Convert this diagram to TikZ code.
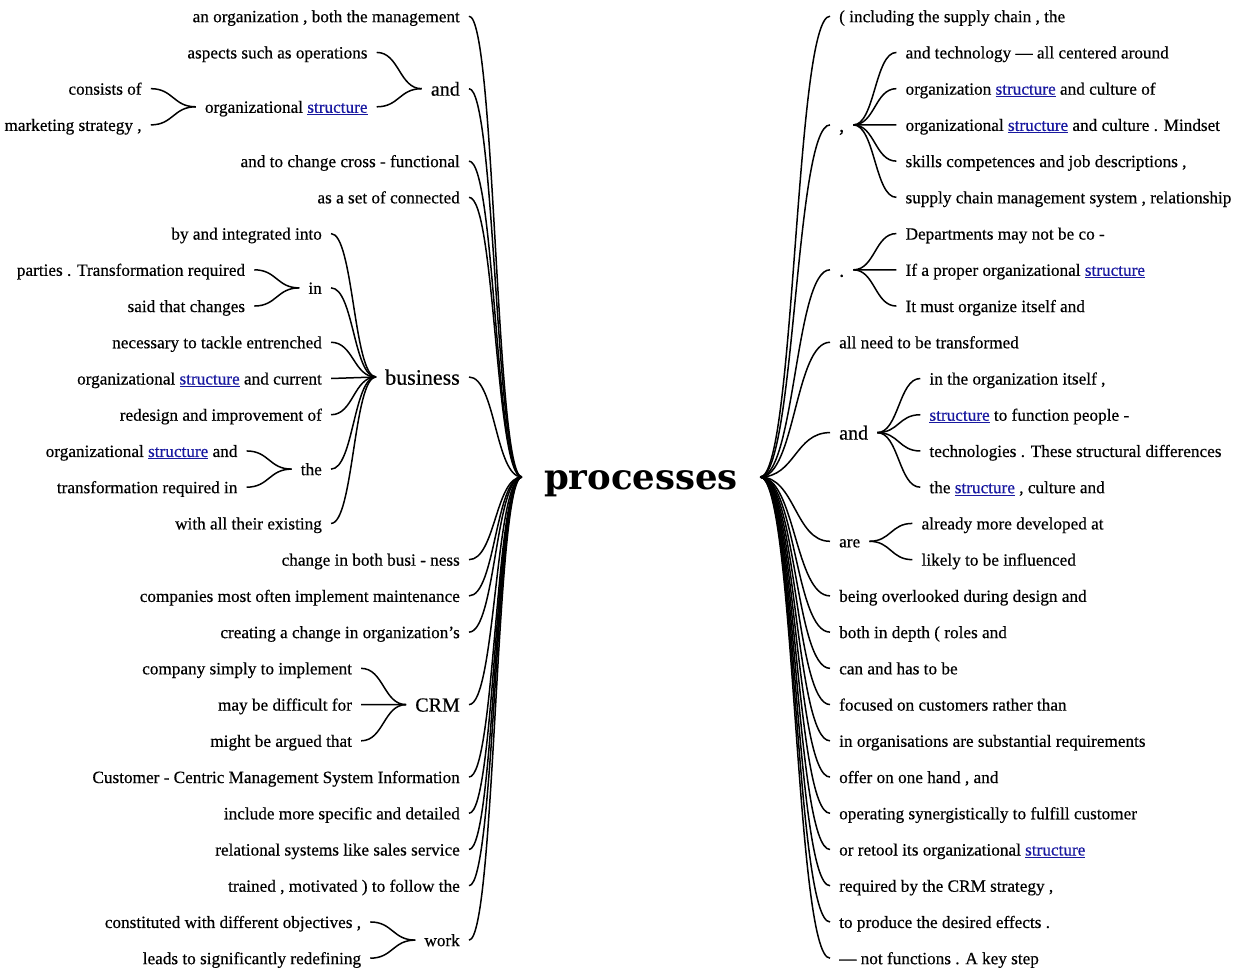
\documentclass[tikz,border=0pt]{standalone}
\usepackage{fontspec}
\setmainfont{Liberation Serif}[FakeBold=0.45]
\newfontfamily\rootfont{DejaVu Serif}
\usetikzlibrary{calc}
\definecolor{linkblue}{RGB}{24,24,160}
\newcommand\lnk[1]{\textcolor{linkblue}{\underline{#1}}}
% curved branch between two anchors, horizontal at both ends
\newcommand\wlink[2]{\draw[treelink] let \p1=(#1), \p2=(#2) in (\p1) .. controls ({0.5*\x1+0.5*\x2},\y1) and ({0.5*\x1+0.5*\x2},\y2) .. (\p2);}
\tikzset{
  treelink/.style={line width=1.5pt, black},
  word/.style={inner xsep=9pt, inner ysep=0pt, text depth=0pt, text height=12pt,
               font=\fontsize{17.2}{20}\selectfont},
  wl/.style={word, anchor=east},
  wr/.style={word, anchor=west},
  mid/.style={font=\fontsize{20}{24}\selectfont, text height=14pt},
  big/.style={font=\fontsize{22}{26}\selectfont, text height=15.4pt},
  rootword/.style={inner xsep=22pt, inner ysep=0pt, text depth=0pt, text height=24.5pt,
                   font=\rootfont\bfseries\fontsize{35.5}{40}\selectfont},
}
\begin{document}
\begin{tikzpicture}[x=1pt,y=-1pt]
\useasboundingbox[fill=white] (0,0) rectangle (1237,972);

% rows of the tree
\foreach \i in {0,...,26} \coordinate (row\i) at (0,{16.2+36.23*\i});
\coordinate (yLand) at (0,88.7);
\coordinate (yOrg) at (0,106.8);
\coordinate (yBus) at (0,377);
\coordinate (yIn) at (0,287.9);
\coordinate (yThe) at (0,469.1);
\coordinate (yCrm) at (0,704.6);
\coordinate (yWork) at (0,940.1);
\coordinate (yComma) at (0,124.9);
\coordinate (yDot) at (0,269.8);
\coordinate (yRand) at (0,432.6);
\coordinate (yAre) at (0,541.3);
\coordinate (cL) at (469,0);
\coordinate (cR) at (830,0);

% root word
\node[rootword] (root) at (641,477) {processes};

% ---------------- left branches ----------------
\node[wl] (l0) at (cL |- row0) {an organization , both the management};
\node[wl,mid] (land) at (cL |- yLand) {and};
\path (land.west) ++(-45,0) coordinate (xland);
\node[wl] (laspects) at (xland |- row1) {aspects such as operations};
\node[wl] (lorg) at (xland |- yOrg) {organizational \lnk{structure}};
\path (lorg.west) ++(-45,0) coordinate (xlorg);
\node[wl] (lconsists) at (xlorg |- row2) {consists of};
\node[wl] (lmarket) at (xlorg |- row3) {marketing strategy ,};
\node[wl] (l4) at (cL |- row4) {and to change cross - functional};
\node[wl] (l5) at (cL |- row5) {as a set of connected};
\node[wl,big] (lbus) at (cL |- yBus) {business};
\path (lbus.west) ++(-45,0) coordinate (xbus);
\node[wl] (lby) at (xbus |- row6) {by and integrated into};
\node[wl] (lin) at (xbus |- yIn) {in};
\path (lin.west) ++(-45,0) coordinate (xin);
\node[wl] (lparties) at (xin |- row7) {parties . Transformation required};
\node[wl] (lsaid) at (xin |- row8) {said that changes};
\node[wl] (lnec) at (xbus |- row9) {necessary to tackle entrenched};
\node[wl] (lcur) at (xbus |- row10) {organizational \lnk{structure} and current};
\node[wl] (lred) at (xbus |- row11) {redesign and improvement of};
\node[wl] (lthe) at (xbus |- yThe) {the};
\path (lthe.west) ++(-45,0) coordinate (xthe);
\node[wl] (lorgand) at (xthe |- row12) {organizational \lnk{structure} and};
\node[wl] (ltrans) at (xthe |- row13) {transformation required in};
\node[wl] (lwith) at (xbus |- row14) {with all their existing};
\node[wl] (l15) at (cL |- row15) {change in both busi - ness};
\node[wl] (l16) at (cL |- row16) {companies most often implement maintenance};
\node[wl] (l17) at (cL |- row17) {creating a change in organization’s};
\node[wl,mid] (lcrm) at (cL |- yCrm) {CRM};
\path (lcrm.west) ++(-45,0) coordinate (xcrm);
\node[wl] (lcomp) at (xcrm |- row18) {company simply to implement};
\node[wl] (lmay) at (xcrm |- row19) {may be difficult for};
\node[wl] (lmight) at (xcrm |- row20) {might be argued that};
\node[wl] (l21) at (cL |- row21) {Customer - Centric Management System Information};
\node[wl] (l22) at (cL |- row22) {include more specific and detailed};
\node[wl] (l23) at (cL |- row23) {relational systems like sales service};
\node[wl] (l24) at (cL |- row24) {trained , motivated ) to follow the};
\node[wl] (lwork) at (cL |- yWork) {work};
\path (lwork.west) ++(-45,0) coordinate (xwork);
\node[wl] (lconst) at (xwork |- row25) {constituted with different objectives ,};
\node[wl] (lleads) at (xwork |- row26) {leads to significantly redefining};

% ---------------- right branches ----------------
\node[wr] (R0) at (cR |- row0) {( including the supply chain , the};
\node[wr,mid] (Rcomma) at (cR |- yComma) {,};
\path (Rcomma.east) ++(43,0) coordinate (xcomma);
\node[wr] (Rtech) at (xcomma |- row1) {and technology — all centered around};
\node[wr] (Rcult) at (xcomma |- row2) {organization \lnk{structure} and culture of};
\node[wr] (Rmind) at (xcomma |- row3) {organizational \lnk{structure} and culture . Mindset};
\node[wr] (Rskill) at (xcomma |- row4) {skills competences and job descriptions ,};
\node[wr] (Rsupply) at (xcomma |- row5) {supply chain management system , relationship};
\node[wr,mid] (Rdot) at (cR |- yDot) {.};
\path (Rdot.east) ++(43,0) coordinate (xdot);
\node[wr] (Rdep) at (xdot |- row6) {Departments may not be co -};
\node[wr] (Rproper) at (xdot |- row7) {If a proper organizational \lnk{structure}};
\node[wr] (Rmust) at (xdot |- row8) {It must organize itself and};
\node[wr] (R9) at (cR |- row9) {all need to be transformed};
\node[wr,mid] (Rand) at (cR |- yRand) {and};
\path (Rand.east) ++(43,0) coordinate (xrand);
\node[wr] (Ritself) at (xrand |- row10) {in the organization itself ,};
\node[wr] (Rfunc) at (xrand |- row11) {\lnk{structure} to function people -};
\node[wr] (Rtechn) at (xrand |- row12) {technologies . These structural differences};
\node[wr] (Rstruct) at (xrand |- row13) {the \lnk{structure} , culture and};
\node[wr] (Rare) at (cR |- yAre) {are};
\path (Rare.east) ++(43,0) coordinate (xare);
\node[wr] (Rready) at (xare |- row14) {already more developed at};
\node[wr] (Rlikely) at (xare |- row15) {likely to be influenced};
\node[wr] (R16) at (cR |- row16) {being overlooked during design and};
\node[wr] (R17) at (cR |- row17) {both in depth ( roles and};
\node[wr] (R18) at (cR |- row18) {can and has to be};
\node[wr] (R19) at (cR |- row19) {focused on customers rather than};
\node[wr] (R20) at (cR |- row20) {in organisations are substantial requirements};
\node[wr] (R21) at (cR |- row21) {offer on one hand , and};
\node[wr] (R22) at (cR |- row22) {operating synergistically to fulfill customer};
\node[wr] (R23) at (cR |- row23) {or retool its organizational \lnk{structure}};
\node[wr] (R24) at (cR |- row24) {required by the CRM strategy ,};
\node[wr] (R25) at (cR |- row25) {to produce the desired effects .};
\node[wr] (R26) at (cR |- row26) {— not functions . A key step};

% ---------------- connectors ----------------
\foreach \k in {l0,land,l4,l5,lbus,l15,l16,l17,lcrm,l21,l22,l23,l24,lwork}
  {\wlink{\k.east}{root.west}}
\foreach \k in {laspects,lorg} {\wlink{\k.east}{land.west}}
\foreach \k in {lconsists,lmarket} {\wlink{\k.east}{lorg.west}}
\foreach \k in {lby,lin,lnec,lcur,lred,lthe,lwith} {\wlink{\k.east}{lbus.west}}
\foreach \k in {lparties,lsaid} {\wlink{\k.east}{lin.west}}
\foreach \k in {lorgand,ltrans} {\wlink{\k.east}{lthe.west}}
\foreach \k in {lcomp,lmay,lmight} {\wlink{\k.east}{lcrm.west}}
\foreach \k in {lconst,lleads} {\wlink{\k.east}{lwork.west}}

\foreach \k in {R0,Rcomma,Rdot,R9,Rand,Rare,R16,R17,R18,R19,R20,R21,R22,R23,R24,R25,R26}
  {\wlink{root.east}{\k.west}}
\foreach \k in {Rtech,Rcult,Rmind,Rskill,Rsupply} {\wlink{Rcomma.east}{\k.west}}
\foreach \k in {Rdep,Rproper,Rmust} {\wlink{Rdot.east}{\k.west}}
\foreach \k in {Ritself,Rfunc,Rtechn,Rstruct} {\wlink{Rand.east}{\k.west}}
\foreach \k in {Rready,Rlikely} {\wlink{Rare.east}{\k.west}}
\end{tikzpicture}
\end{document}
